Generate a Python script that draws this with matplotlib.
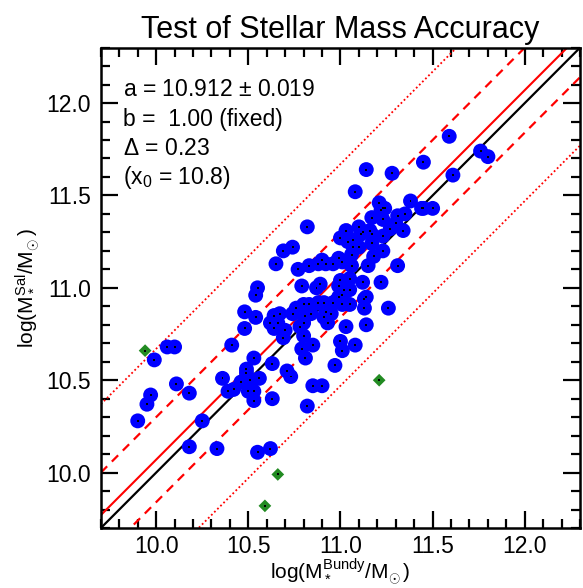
import numpy as np
import matplotlib
matplotlib.use('Agg')
import matplotlib.pyplot as plt

plt.rcParams['font.family'] = ['Liberation Sans', 'DejaVu Sans']
plt.rcParams['mathtext.fontset'] = 'custom'
plt.rcParams['mathtext.rm'] = 'Liberation Sans'
plt.rcParams['mathtext.it'] = 'Liberation Sans'

# log stellar masses: Bundy (x) vs Salpeter (y)
x_bundy = [9.90, 9.95, 9.97, 9.99, 10.06, 10.10, 10.11, 10.18, 10.18, 10.25,
           10.33, 10.36, 10.41, 10.48, 10.48, 10.54, 10.55, 10.54, 10.53, 10.49,
           10.49, 10.51, 10.46, 10.39, 10.42, 10.50, 10.53, 10.53, 10.55, 10.56,
           10.62, 10.63, 10.82, 10.63, 10.71, 10.73, 10.85, 10.90, 10.97, 10.62,
           10.66, 10.64, 10.67, 10.64, 10.70, 10.69, 10.76, 10.74, 10.80, 10.83,
           10.81, 10.84, 10.78, 10.80, 10.80, 10.88, 10.91, 10.92, 10.93, 10.91,
           10.95, 11.03, 11.13, 11.13, 11.14, 10.85, 10.79, 10.81, 11.00, 11.01,
           11.08, 10.79, 10.87, 10.89, 11.00, 11.05, 11.12, 10.99, 11.02, 11.01,
           10.99, 11.14, 11.22, 11.26, 10.96, 11.01, 11.05, 11.05, 10.65, 10.69,
           10.74, 10.82, 10.77, 10.83, 10.88, 10.90, 10.92, 10.96, 10.99, 11.01,
           11.06, 11.03, 11.00, 11.04, 11.07, 11.11, 11.12, 11.16, 11.17, 11.10,
           11.07, 11.10, 11.06, 11.17, 11.23, 11.21, 11.23, 11.24, 11.22, 11.18,
           11.23, 11.15, 11.08, 11.14, 11.28, 11.45, 11.59, 11.76, 11.80, 11.61,
           11.38, 11.44, 11.45, 11.50, 11.31, 11.35, 11.30, 11.27, 11.34, 11.23,
           11.17, 11.31]
y_sal = [10.28, 10.37, 10.42, 10.61, 10.68, 10.68, 10.48, 10.43, 10.14, 10.28,
         10.13, 10.51, 10.69, 10.78, 10.87, 10.84, 11.00, 10.96, 10.62, 10.56,
         10.54, 10.50, 10.49, 10.44, 10.45, 10.44, 10.44, 10.39, 10.11, 10.51,
         10.13, 10.40, 10.36, 10.59, 10.55, 10.52, 10.47, 10.47, 10.58, 10.81,
         10.81, 10.85, 10.86, 10.78, 10.77, 10.73, 10.89, 10.86, 10.91, 10.91,
         10.85, 10.86, 10.79, 10.81, 10.74, 10.92, 10.92, 10.87, 10.81, 10.84,
         10.86, 10.79, 10.94, 10.89, 10.80, 10.69, 10.67, 10.62, 10.71, 10.66,
         10.69, 11.01, 11.00, 11.02, 11.04, 11.05, 11.03, 11.01, 10.99, 10.96,
         10.95, 10.95, 11.03, 10.89, 10.92, 10.91, 10.91, 10.99, 11.13, 11.20,
         11.22, 11.33, 11.10, 11.12, 11.13, 11.15, 11.13, 11.13, 11.16, 11.14,
         11.12, 11.31, 11.27, 11.25, 11.26, 11.29, 11.30, 11.31, 11.29, 11.33,
         11.22, 11.22, 11.18, 11.38, 11.37, 11.46, 11.43, 11.43, 11.42, 11.17,
         11.20, 11.12, 11.52, 11.64, 11.62, 11.68, 11.82, 11.74, 11.71, 11.61,
         11.47, 11.43, 11.43, 11.43, 11.39, 11.40, 11.35, 11.32, 11.31, 11.28,
         11.24, 11.12]

# rejected objects (green diamonds)
x_rej = [9.94, 10.66, 10.59, 11.21]
y_rej = [10.66, 9.99, 9.82, 10.50]

offset = 0.07      # zero point of the fitted relation relative to 1:1
delta = 0.23       # scatter
outer = 0.60       # outer band

lim = [9.7, 12.3]

fig = plt.figure(figsize=(5.83, 5.88), dpi=100)
ax = fig.add_axes([0.173, 0.102, 0.822, 0.817])

xx = np.array(lim)
ax.plot(xx, xx, color='black', lw=1.6, zorder=2)
ax.plot(xx, xx + offset, color='red', lw=1.5, zorder=2)
ax.plot(xx, xx + offset + delta, color='red', lw=1.6, ls=(0, (4, 3)), zorder=2)
ax.plot(xx, xx + offset - delta, color='red', lw=1.6, ls=(0, (4, 3)), zorder=2)
ax.plot(xx, xx + offset + outer, color='red', lw=1.3, ls=(0, (1, 1.4)), zorder=2)
ax.plot(xx, xx + offset - outer, color='red', lw=1.3, ls=(0, (1, 1.4)), zorder=2)

ax.scatter(x_bundy, y_sal, s=115, color='blue', edgecolors='none', zorder=3)
ax.scatter(x_bundy, y_sal, s=2, marker='s', color='black', edgecolors='none', zorder=4)
ax.scatter(x_rej, y_rej, s=42, marker='D', color='#228B22', edgecolors='none', zorder=3)
ax.scatter(x_rej, y_rej, s=2, marker='s', color='black', edgecolors='none', zorder=4)

ax.set_xlim(lim)
ax.set_ylim(lim)
ax.set_xticks([10.0, 10.5, 11.0, 11.5, 12.0])
ax.set_yticks([10.0, 10.5, 11.0, 11.5, 12.0])
ax.set_xticks(np.arange(9.7, 12.31, 0.1), minor=True)
ax.set_yticks(np.arange(9.7, 12.31, 0.1), minor=True)
ax.tick_params(which='both', direction='in', top=True, right=True, labelsize=16.5, width=1.6)
ax.tick_params(which='major', length=12, pad=7)
ax.tick_params(axis='x', which='major', pad=5)
ax.tick_params(which='minor', length=6.5)
for sp in ax.spines.values():
    sp.set_linewidth(1.8)

ax.set_xlabel(r'log(M$_*^{\rm Bundy}$/M$_{\!\odot}$)', fontsize=15, labelpad=-1)
ax.set_ylabel(r'log(M$_*^{\rm Sal}$/M$_{\!\odot}$)', fontsize=15, labelpad=4)
ax.set_title('Test of Stellar Mass Accuracy', fontsize=22, pad=7)

lines = [r'a = 10.912 $\pm$ 0.019', 'b =  1.00 (fixed)', r'$\Delta$ = 0.23', r'(x$_0$ = 10.8)']
for i, t in enumerate(lines):
    ax.text(0.046, 0.912 - i * 0.061, t, transform=ax.transAxes, fontsize=16.5, va='center')

fig.savefig('out.png', dpi=100)
